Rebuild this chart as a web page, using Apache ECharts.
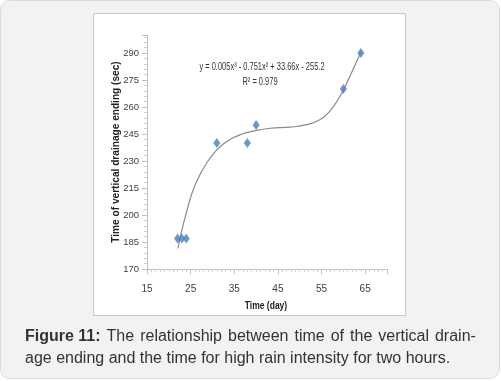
<!DOCTYPE html>
<html><head><meta charset="utf-8">
<script src="https://cdn.jsdelivr.net/npm/echarts@6/dist/echarts.min.js"></script>
<style>html,body{margin:0;padding:0;background:#fff}#c{width:501px;height:381px}</style>
</head><body><div id="c"></div>
<script>
// observed points
var obsX = [22, 23, 24, 31, 38, 40, 60, 64];
var obsY = [187, 187, 187, 240, 240, 250, 270, 290];
// trendline
var trendX = [22.1, 23.0, 24.2, 25.3, 26.9, 28.4, 30.3, 32.2, 34.5, 36.8, 39.1, 43.2, 47.8, 51.6, 54.7, 57.0, 59.0, 61.0, 63.0, 64.0];
var trendY = [181.5, 191.7, 202.8, 212.1, 221.3, 227.8, 234.3, 238.9, 242.6, 245.0, 246.5, 248.2, 248.8, 250.2, 253.0, 258.0, 265.0, 274.5, 285.0, 290.3];
var xTicks = [15, 25, 35, 45, 55, 65];
var yTicks = [170, 185, 200, 215, 230, 245, 260, 275, 290];
var equationText = 'y = 0.005x³ - 0.751x² + 33.66x - 255.2';
var r2Text = 'R² = 0.979';
var xTitle = 'Time (day)';
var yTitle = 'Time of vertical drainage ending (sec)';

var chart = echarts.init(document.getElementById('c'));
var pts = obsX.map(function(x, i){ return [x, obsY[i]]; });
var tr = trendX.map(function(x, i){ return [x, trendY[i]]; });
var sans = "'Liberation Sans', Arial, sans-serif";
var capFont = {fontSize:16, fontFamily:sans, fill:'#333', lineHeight:22};
chart.setOption({
  animation: false,
  graphic: [
    {type:'rect', shape:{x:0.5,y:0.5,width:499,height:378,r:9}, style:{fill:'#f2f2f2',stroke:'#dcdcdc',lineWidth:1}, z:-10},
    {type:'rect', shape:{x:93.5,y:13.5,width:312,height:302}, style:{fill:'#ffffff',stroke:'#c8c8c8',lineWidth:1}, z:-9},
    {type:'text', x:262, y:67, scaleX:0.68, style:{text:equationText, fill:'#333', font:"11px " + sans, textAlign:'center', textVerticalAlign:'middle'}, z:10},
    {type:'text', x:260, y:82, scaleX:0.68, style:{text:r2Text, fill:'#333', font:"11px " + sans, textAlign:'center', textVerticalAlign:'middle'}, z:10},
    {type:'text', x:116, y:152, rotation:Math.PI/2, scaleX:0.92, style:{text:yTitle, fill:'#222', font:"bold 11px " + sans, textAlign:'center', textVerticalAlign:'middle'}, z:10},
    {type:'text', x:266, y:306, scaleX:0.85, style:{text:xTitle, fill:'#222', font:"bold 10px " + sans, textAlign:'center', textVerticalAlign:'middle'}, z:10},
    {type:'text', left:25, top:329, style:{
      rich:{b:{fontWeight:'bold', fontSize:16, fontFamily:sans, fill:'#333', lineHeight:22},
            n:capFont,
            s:{fontSize:16, fontFamily:sans, lineHeight:22, width:6}},
      text:'{b|Figure 11:}{s| }{n|The}{s| }{n|relationship}{s| }{n|between}{s| }{n|time}{s| }{n|of}{s| }{n|the}{s| }{n|vertical}{s| }{n|drain-}\n{n|age ending and the time for high rain intensity for two hours.}'
    }}
  ],
  grid: {left:147, right:114, top:35, bottom:112},
  xAxis: {
    type:'value', min:15, max:70, interval:10,
    axisLine:{lineStyle:{color:'#bfbfbf'}},
    axisTick:{show:true, length:5, lineStyle:{color:'#bfbfbf'}},
    minorTick:{show:true, splitNumber:10, length:3, lineStyle:{color:'#d0d0d0'}},
    splitLine:{show:false},
    axisLabel:{showMaxLabel:false, color:'#404040', fontSize:10, fontFamily:sans, margin:15,
      formatter:function(v){ return xTicks.indexOf(v) >= 0 ? String(v) : ''; }}
  },
  yAxis: {
    type:'value', min:170, max:300, interval:15,
    axisLine:{show:true, lineStyle:{color:'#bfbfbf'}},
    axisTick:{show:true, length:5, lineStyle:{color:'#bfbfbf'}},
    minorTick:{show:true, splitNumber:5, length:3, lineStyle:{color:'#d0d0d0'}},
    splitLine:{show:false},
    axisLabel:{showMaxLabel:false, color:'#404040', fontSize:9.5, fontFamily:sans, margin:8,
      formatter:function(v){ return yTicks.indexOf(v) >= 0 ? String(v) : ''; }}
  },
  series: [
    {type:'line', data:tr, smooth:0.5, showSymbol:false, lineStyle:{color:'#8a8a8a', width:1.2}, z:2},
    {type:'scatter', data:pts, symbol:'diamond', symbolSize:[7,10], itemStyle:{color:'#4a7ebb'}, z:3}
  ]
});
</script></body></html>
